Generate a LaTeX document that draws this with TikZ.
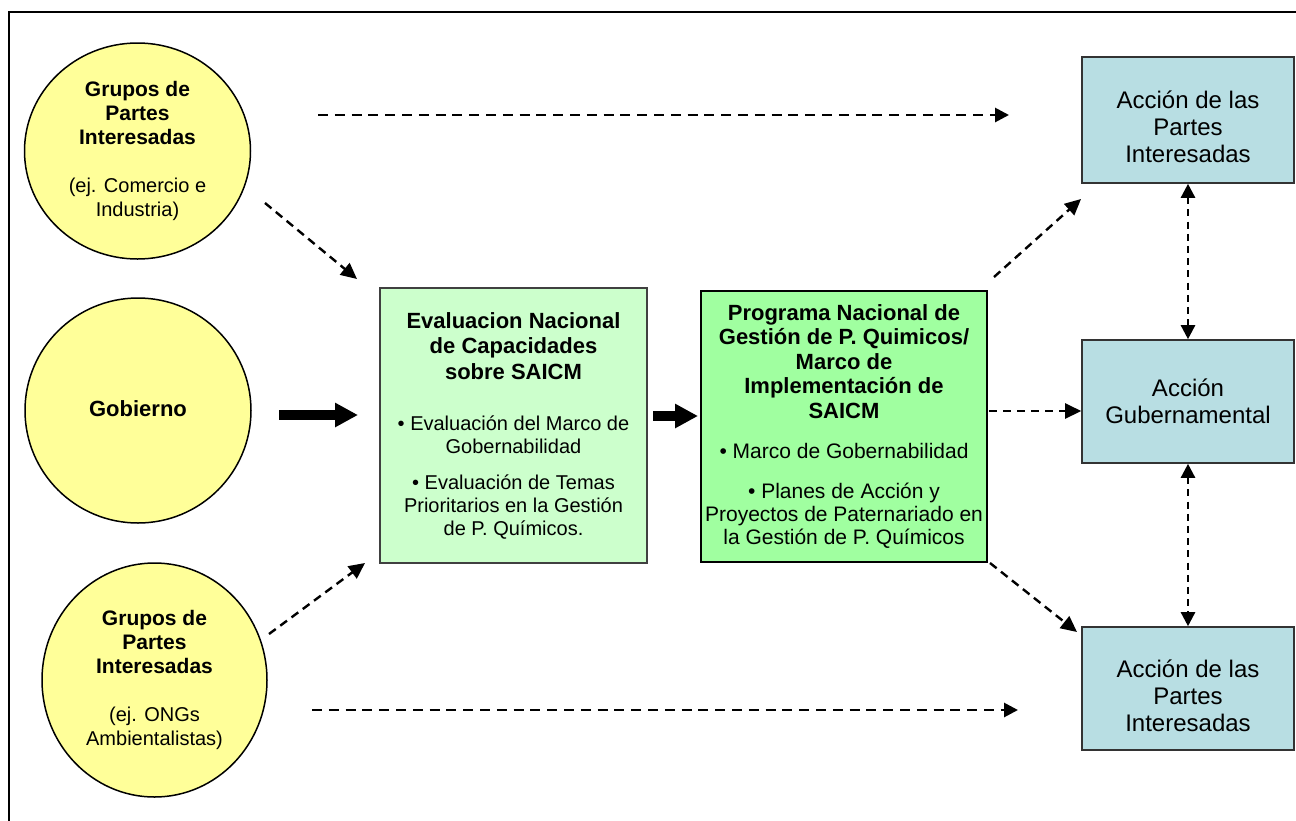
\documentclass[tikz,border=0pt]{standalone}
\usepackage{fontspec}
\setmainfont{Liberation Sans}
\usetikzlibrary{arrows.meta,shapes.geometric}
\definecolor{circyellow}{HTML}{FFFF99}
\definecolor{lightgreen}{HTML}{CCFFCC}
\definecolor{midgreen}{HTML}{A0FFA0}
\definecolor{actblue}{HTML}{B8DEE3}
\begin{document}
\begin{tikzpicture}[x=0.5pt,y=-0.5pt,
  circ/.style={ellipse, draw, line width=0.75pt, fill=circyellow, inner sep=0pt, align=center, font=\fontsize{10.5}{12}\selectfont},
  evalbox/.style={draw=black!75, line width=0.8pt, fill=lightgreen, inner sep=0pt, minimum width=133.5pt, minimum height=137.5pt},
  progbox/.style={draw, line width=0.9pt, fill=midgreen, inner sep=0pt, minimum width=143pt, minimum height=135.5pt},
  act/.style={draw=black!80, line width=0.8pt, fill=actblue, inner sep=0pt, minimum width=106pt, align=center, font=\fontsize{12}{13.5}\selectfont},
  diagarrow/.style={line width=1.2pt, dash pattern=on 4.2pt off 2.8pt, -{Triangle[length=8pt,width=7.5pt]}},
  longarrow/.style={line width=1.4pt, dash pattern=on 5pt off 3.4pt, -{Triangle[length=7pt,width=7pt]}},
  vdarrow/.style={line width=1.25pt, dash pattern=on 3.5pt off 2.6pt, {Triangle[length=7pt,width=7pt]}-{Triangle[length=7pt,width=7pt]}},
  fatarrow/.style={line width=4.6pt, -{Triangle[length=11.5pt,width=11.5pt]}}
]
\useasboundingbox (0,0) rectangle (1296,820);
\begin{scope}
\clip (0,0) rectangle (1296,820);
\draw[line width=0.9pt] (9,12) rectangle (1310,840);
\end{scope}

% circles
\node[circ, minimum width=113pt, minimum height=108pt] (grpA) at (137.5,151)
  {\bfseries Grupos de\\ \bfseries Partes\\ \bfseries Interesadas\\[12pt]
   \fontsize{10}{12}\selectfont (ej. Comercio e\\ \fontsize{10}{12}\selectfont Industria)};
\node[circ, minimum width=113pt, minimum height=112.5pt, font=\fontsize{11}{13}\selectfont\bfseries] (gov) at (138,410.5) {\raisebox{1.5pt}{Gobierno}};
\node[circ, minimum width=112.5pt, minimum height=117pt] (grpB) at (154.5,680)
  {\bfseries Grupos de\\ \bfseries Partes\\ \bfseries Interesadas\\[12pt]
   \fontsize{10}{12}\selectfont (ej. ONGs\\ \fontsize{10}{12}\selectfont Ambientalistas)};

% green boxes
\node[evalbox] (eval) at (513.5,425.5) {\parbox{131pt}{\centering
  {\fontsize{11}{12.75}\selectfont\bfseries Evaluacion Nacional\\ de Capacidades\\ sobre SAICM\par}
  \vspace{14pt}
  {\fontsize{10}{11.5}\selectfont • Evaluación del Marco de\\ Gobernabilidad\par}
  \vspace{6.5pt}
  {\fontsize{10}{11.5}\selectfont • Evaluación de Temas\\ Prioritarios en la Gestión\\ de P. Químicos.\par}}};
\node[progbox] (prog) at (844,426.5) {\parbox{141pt}{\centering
  {\fontsize{11}{12.25}\selectfont\bfseries Programa Nacional de\\ Gestión de P. Quimicos/\\ Marco de\\ Implementación de\\ SAICM\par}
  \vspace{8.5pt}
  {\fontsize{10.5}{11.5}\selectfont • Marco de Gobernabilidad\par}
  \vspace{8.5pt}
  {\fontsize{10.5}{11.5}\selectfont • Planes de Acción y\\ Proyectos de Paternariado en\\ la Gestión de P. Químicos\par}}};

% action boxes
\node[act, minimum height=63pt] (actA) at (1188,120) {\parbox{104pt}{\centering\vspace*{7pt}Acción de las\\ Partes\\ Interesadas}};
\node[act, minimum height=61.5pt] (actG) at (1188,401.5) {Acción\\ Gubernamental};
\node[act, minimum height=61.5pt] (actB) at (1188,688.5) {\parbox{104pt}{\centering\vspace*{7pt}Acción de las\\ Partes\\ Interesadas}};

% connector end points
\coordinate (topS) at (318,115);   \coordinate (topE) at (1009,115);
\coordinate (botS) at (312,710);   \coordinate (botE) at (1018,710);
\coordinate (d1S) at (265,203);    \coordinate (d1E) at (357,279);
\coordinate (d2S) at (269,634);    \coordinate (d2E) at (365,563);
\coordinate (d3S) at (994,277);    \coordinate (d3E) at (1081,199);
\coordinate (d4S) at (990,563);    \coordinate (d4E) at (1077,632);
\coordinate (govS) at (279,415);   \coordinate (govE) at (358,415);
\coordinate (evS) at (653,416);    \coordinate (evE) at (698,416);
\coordinate (mS) at (989,411);

% connectors
\draw[longarrow] (topS) -- (topE);
\draw[longarrow] (botS) -- (botE);
\draw[diagarrow] (d1S) -- (d1E);
\draw[diagarrow] (d2S) -- (d2E);
\draw[diagarrow] (d3S) -- (d3E);
\draw[diagarrow] (d4S) -- (d4E);
\draw[diagarrow] (mS) -- (mS -| actG.west);
\draw[fatarrow] (govS) -- (govE);
\draw[fatarrow] (evS) -- (evE);
\draw[vdarrow] (actA.south) -- (actG.north);
\draw[vdarrow] (actG.south) -- (actB.north);
\end{tikzpicture}
\end{document}
